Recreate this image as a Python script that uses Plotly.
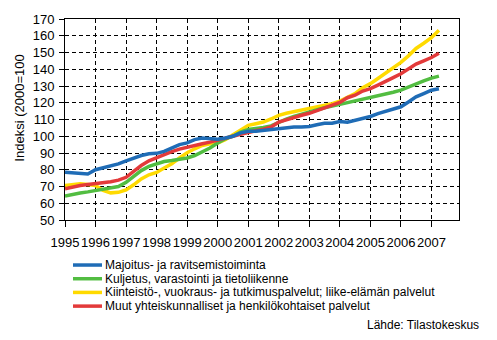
import plotly.graph_objects as go
import pandas as pd

# Quarterly observations, 1995Q1 .. 2007Q2
quarters = pd.date_range("1995-01-01", periods=50, freq="QS")

majoitus = [78.5, 78.0, 77.8, 77.5, 80.0, 81.0, 82.0, 83.5, 85.3, 87.0,
            88.5, 89.5, 89.8, 91.0, 93.0, 95.0, 96.0, 98.0, 99.0, 98.5,
            98.2, 99.0, 100.0, 102.0, 103.0, 103.0, 103.5, 104.0, 105.0, 105.5,
            105.5, 105.5, 105.8, 106.9, 107.8, 107.8, 108.8, 108.4, 109.5, 111.0,
            111.8, 113.5, 115.0, 116.0, 117.6, 120.5, 123.5, 125.5, 127.5, 128.4]

kuljetus = [64.3, 65.3, 66.1, 66.8, 67.6, 68.6, 69.2, 70.0, 72.5, 76.0,
            79.5, 82.0, 83.7, 84.9, 85.5, 86.0, 87.0, 88.5, 90.5, 93.0,
            96.0, 98.5, 100.0, 102.5, 104.0, 104.5, 105.2, 106.2, 108.5, 110.2,
            111.8, 113.2, 114.7, 116.0, 117.0, 118.0, 119.0, 120.3, 121.0, 122.0,
            122.9, 124.0, 125.2, 126.3, 127.5, 129.5, 131.4, 133.0, 134.7, 135.9]

kiinteisto = [70.6, 71.2, 71.6, 71.2, 70.6, 67.6, 66.2, 66.5, 68.0, 71.0,
              74.5, 77.0, 78.4, 81.0, 83.5, 87.0, 90.2, 92.5, 94.5, 95.5,
              96.0, 98.0, 101.0, 104.0, 106.5, 107.5, 108.5, 110.3, 112.5, 113.7,
              114.7, 115.7, 116.7, 117.5, 118.3, 119.5, 121.0, 123.5, 125.5, 129.0,
              131.4, 134.5, 137.5, 141.0, 144.1, 148.0, 152.4, 155.5, 158.8, 163.3]

muut = [68.6, 69.8, 70.6, 71.2, 71.6, 72.0, 72.8, 73.8, 75.5, 79.0,
        82.5, 85.3, 87.3, 89.2, 90.8, 92.3, 93.5, 94.5, 95.5, 96.5,
        97.5, 99.0, 100.0, 101.2, 102.5, 103.3, 104.2, 105.5, 108.5, 110.0,
        111.2, 112.5, 113.7, 115.2, 116.9, 118.5, 120.2, 123.0, 124.5, 127.0,
        128.4, 130.5, 133.0, 135.0, 137.3, 140.0, 143.1, 145.0, 147.0, 149.6]

names = ["Majoitus- ja ravitsemistoiminta",
         "Kuljetus, varastointi ja tietoliikenne",
         "Kiinteistö-, vuokraus- ja tutkimuspalvelut; liike-elämän palvelut",
         "Muut yhteiskunnalliset ja henkilökohtaiset palvelut"]
colors = ["#1F6CB6", "#52BD41", "#FFDA00", "#E33A3A"]
series = [majoitus, kuljetus, kiinteisto, muut]

year_ticks = [str(y) for y in range(1995, 2008)]
y_ticks = list(range(50, 171, 10))

FONT = "Liberation Sans, Arial, sans-serif"
FS = 13
LFS = 12

fig = go.Figure()
for i in [2, 1, 3, 0]:
    fig.add_trace(go.Scatter(x=quarters, y=series[i], mode="lines", name=names[i],
                             line=dict(color=colors[i], width=3.5),
                             showlegend=False))

# legend built from series names/colours
L, R, T, B = 65, 459, 16, 220
W, H = R - L, B - T
def px_x(p):
    return (p - L) / W
def px_y(p):
    return (B - p) / H

row_y = [265.7, 279.6, 293.5, 307.4]
for i, nm in enumerate(names):
    fig.add_shape(type="line", xref="paper", yref="paper",
                  x0=px_x(73), x1=px_x(102), y0=px_y(row_y[i]), y1=px_y(row_y[i]),
                  line=dict(color=colors[i], width=3.5))
    fig.add_annotation(text=nm, xref="paper", yref="paper", x=px_x(103.5), y=px_y(row_y[i]),
                       xanchor="left", yanchor="middle", showarrow=False, borderpad=0,
                       font=dict(family=FONT, size=LFS, color="black"))

fig.add_annotation(text="Lähde: Tilastokeskus", xref="paper", yref="paper",
                   x=px_x(480), y=px_y(327), xanchor="right", yanchor="middle",
                   showarrow=False, borderpad=0, font=dict(family=FONT, size=LFS, color="black"))

fig.add_annotation(text="Indeksi (2000=100", xref="paper", yref="paper",
                   x=px_x(20), y=px_y(107), xanchor="center", yanchor="middle",
                   textangle=-90, showarrow=False,
                   font=dict(family=FONT, size=FS, color="black"))

fig.update_layout(
    width=497, height=340,
    margin=dict(l=L, r=497 - R, t=T, b=340 - B, pad=0),
    paper_bgcolor="white", plot_bgcolor="white",
    font=dict(family=FONT, size=FS, color="black"),
    xaxis=dict(type="date", range=["1995-01-01", "2007-11-27"],
               tickvals=[pd.Timestamp(y + "-01-01") for y in year_ticks],
               ticktext=year_ticks, tickangle=0,
               ticks="outside", ticklen=6, tickcolor="black", ticklabelstandoff=4,
               showline=True, linecolor="black", linewidth=1, mirror=True,
               showgrid=True, gridcolor="black", gridwidth=1, griddash="4px,3px",
               zeroline=False, tickfont=dict(size=FS)),
    yaxis=dict(range=[50, 170], tickvals=y_ticks,
               ticks="outside", ticklen=5, tickcolor="black", ticklabelstandoff=2,
               showline=True, linecolor="black", linewidth=1, mirror=True,
               showgrid=True, gridcolor="black", gridwidth=1, griddash="4px,3px",
               zeroline=False, tickfont=dict(size=FS)),
)

fig.write_html("out.html")
